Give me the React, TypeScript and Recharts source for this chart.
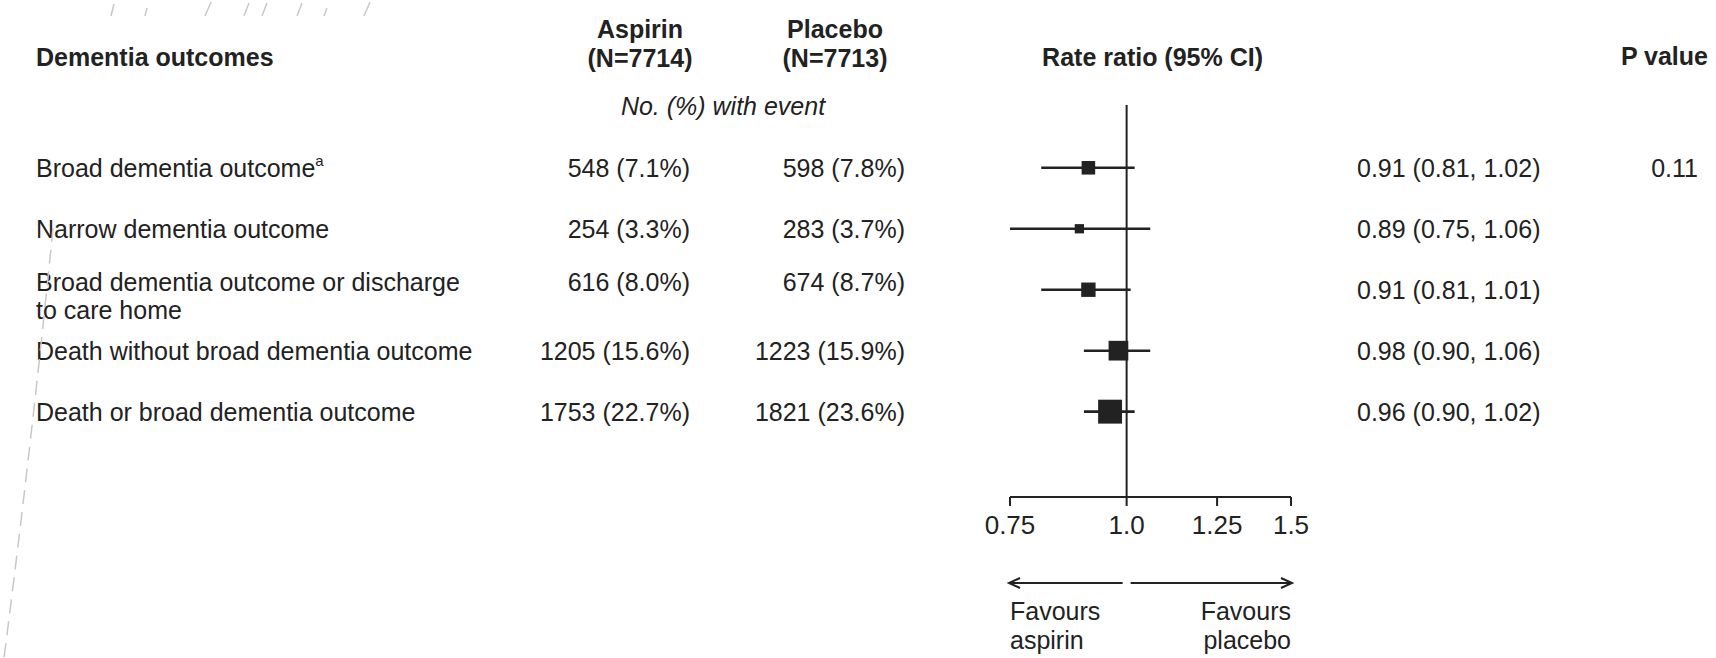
import React from "react";
import {
  ErrorBar,
  ReferenceLine,
  Scatter,
  ScatterChart,
  XAxis,
  YAxis,
} from "recharts";

// table / forest data
const outcomes = [
  "Broad dementia outcome",
  "Narrow dementia outcome",
  "Broad dementia outcome or discharge\nto care home",
  "Death without broad dementia outcome",
  "Death or broad dementia outcome",
];
const footnotes = ["a", "", "", "", ""];
const aspirinEvents = [548, 254, 616, 1205, 1753];
const aspirinPct = [7.1, 3.3, 8.0, 15.6, 22.7];
const placeboEvents = [598, 283, 674, 1223, 1821];
const placeboPct = [7.8, 3.7, 8.7, 15.9, 23.6];
const rateRatio = [0.91, 0.89, 0.91, 0.98, 0.96];
const ciLow = [0.81, 0.75, 0.81, 0.9, 0.9];
const ciHigh = [1.02, 1.06, 1.01, 1.06, 1.02];
const pValues = ["0.11", "", "", "", ""];
const xTicks = [0.75, 1.0, 1.25, 1.5];
const xTickLabels = ["0.75", "1.0", "1.25", "1.5"];

const W = 1716;
const H = 658;
const PLOT_LEFT = 1010;
const PLOT_RIGHT = 1291;
const PLOT_TOP = 105;
const PLOT_BOTTOM = 497;
const AXIS_H = 40;
const FONT = '"Liberation Sans", Arial, Helvetica, sans-serif';
const INK = "#222";

const rows = outcomes.map((label, i) => ({
  row: i + 1,
  label,
  sup: footnotes[i],
  rr: rateRatio[i],
  err: [rateRatio[i] - ciLow[i], ciHigh[i] - rateRatio[i]],
  events: aspirinEvents[i] + placeboEvents[i],
  aspirin: `${aspirinEvents[i]} (${aspirinPct[i].toFixed(1)}%)`,
  placebo: `${placeboEvents[i]} (${placeboPct[i].toFixed(1)}%)`,
  ci: `${rateRatio[i].toFixed(2)} (${ciLow[i].toFixed(2)}, ${ciHigh[i].toFixed(2)})`,
  p: pValues[i],
}));

// square side grows with sqrt of total events
const Box = (props: any) => {
  const { cx, cy, payload } = props;
  const s = 0.4 * Math.sqrt(payload.events);
  return <rect x={cx - s / 2} y={cy - s / 2} width={s} height={s} fill={INK} />;
};

const RowText = (props: any) => {
  const { cy, payload } = props;
  const lines = payload.label.split("\n");
  const base = cy + 9 - (lines.length > 1 ? 8 : 0);
  return (
    <g fontFamily={FONT} fontSize={25} fill={INK}>
      <text x={36} y={base}>
        {lines[0]}
        {payload.sup && (
          <tspan dy={-11} fontSize={15}>
            {payload.sup}
          </tspan>
        )}
      </text>
      {lines[1] && (
        <text x={36} y={base + 28}>
          {lines[1]}
        </text>
      )}
      <text x={690} y={base} textAnchor="end">
        {payload.aspirin}
      </text>
      <text x={905} y={base} textAnchor="end">
        {payload.placebo}
      </text>
      <text x={1357} y={cy + 9}>
        {payload.ci}
      </text>
      {payload.p && (
        <text x={1698} y={cy + 9} textAnchor="end">
          {payload.p}
        </text>
      )}
    </g>
  );
};

const xPos = (v: number) =>
  PLOT_LEFT +
  ((Math.log(v) - Math.log(xTicks[0])) /
    (Math.log(xTicks[xTicks.length - 1]) - Math.log(xTicks[0]))) *
    (PLOT_RIGHT - PLOT_LEFT);

function Overlay() {
  const x1 = xPos(1);
  const ay = 583;
  return (
    <svg
      width={W}
      height={H}
      style={{ position: "absolute", left: 0, top: 0, pointerEvents: "none" }}
      fontFamily={FONT}
      fill={INK}
    >
      {/* faint scan marks in the original */}
      <g stroke="#c8c8c8" strokeWidth={1.5} fill="none">
        <path d="M111 16 L114 4 M145 16 L147 8 M205 16 L211 2 M244 16 L249 3 M262 16 L267 3 M297 16 L302 3 M324 16 L327 8 M364 16 L370 2" />
        <path d="M53 228 Q 32 440 4 658" strokeDasharray="14 8" />
      </g>

      <g fontWeight="bold" fontSize={25}>
        <text x={36} y={66}>Dementia outcomes</text>
        <text x={640} y={38} textAnchor="middle">Aspirin</text>
        <text x={640} y={67} textAnchor="middle">(N=7714)</text>
        <text x={835} y={38} textAnchor="middle">Placebo</text>
        <text x={835} y={67} textAnchor="middle">(N=7713)</text>
        <text x={1263} y={66} textAnchor="end">Rate ratio (95% CI)</text>
        <text x={1708} y={65} textAnchor="end">P value</text>
      </g>
      <text x={723} y={115} fontSize={25} fontStyle="italic" textAnchor="middle">
        No. (%) with event
      </text>

      <g stroke={INK} strokeWidth={2} fill="none">
        <line x1={x1 - 4} y1={ay} x2={PLOT_LEFT - 1} y2={ay} />
        <polyline points={`${PLOT_LEFT + 10},${ay - 5} ${PLOT_LEFT - 1},${ay} ${PLOT_LEFT + 10},${ay + 5}`} />
        <line x1={x1 + 4} y1={ay} x2={PLOT_RIGHT + 1} y2={ay} />
        <polyline points={`${PLOT_RIGHT - 10},${ay - 5} ${PLOT_RIGHT + 1},${ay} ${PLOT_RIGHT - 10},${ay + 5}`} />
      </g>
      <g fontSize={25}>
        <text x={PLOT_LEFT} y={620}>Favours</text>
        <text x={PLOT_LEFT} y={649}>aspirin</text>
        <text x={PLOT_RIGHT} y={620} textAnchor="end">Favours</text>
        <text x={PLOT_RIGHT} y={649} textAnchor="end">placebo</text>
      </g>
    </svg>
  );
}

export default function App() {
  return (
    <div
      style={{
        position: "absolute",
        left: 0,
        top: 0,
        width: W,
        height: H,
        background: "#fff",
      }}
    >
      <ScatterChart
        width={W}
        height={H}
        data={rows}
        margin={{
          top: PLOT_TOP,
          right: W - PLOT_RIGHT,
          bottom: H - PLOT_BOTTOM - AXIS_H,
          left: PLOT_LEFT,
        }}
      >
        <XAxis
          dataKey="rr"
          type="number"
          scale="log"
          domain={[0.75, 1.5]}
          ticks={xTicks}
          interval={0}
          height={AXIS_H}
          tickFormatter={(v: number) => xTickLabels[xTicks.indexOf(v)] ?? String(v)}
          tick={{ fontSize: 26, fill: INK, fontFamily: FONT }}
          tickSize={9}
          tickMargin={10}
          axisLine={{ stroke: INK, strokeWidth: 2 }}
          tickLine={{ stroke: INK, strokeWidth: 2 }}
        />
        <YAxis dataKey="row" type="number" domain={[-0.03, 6.4]} reversed hide />
        <ReferenceLine x={1} stroke={INK} strokeWidth={2} />
        <Scatter data={rows} shape={RowText} isAnimationActive={false} />
        <Scatter data={rows} shape={Box} isAnimationActive={false}>
          <ErrorBar dataKey="err" direction="x" width={0} stroke={INK} strokeWidth={2.6} />
        </Scatter>
      </ScatterChart>
      <Overlay />
    </div>
  );
}
